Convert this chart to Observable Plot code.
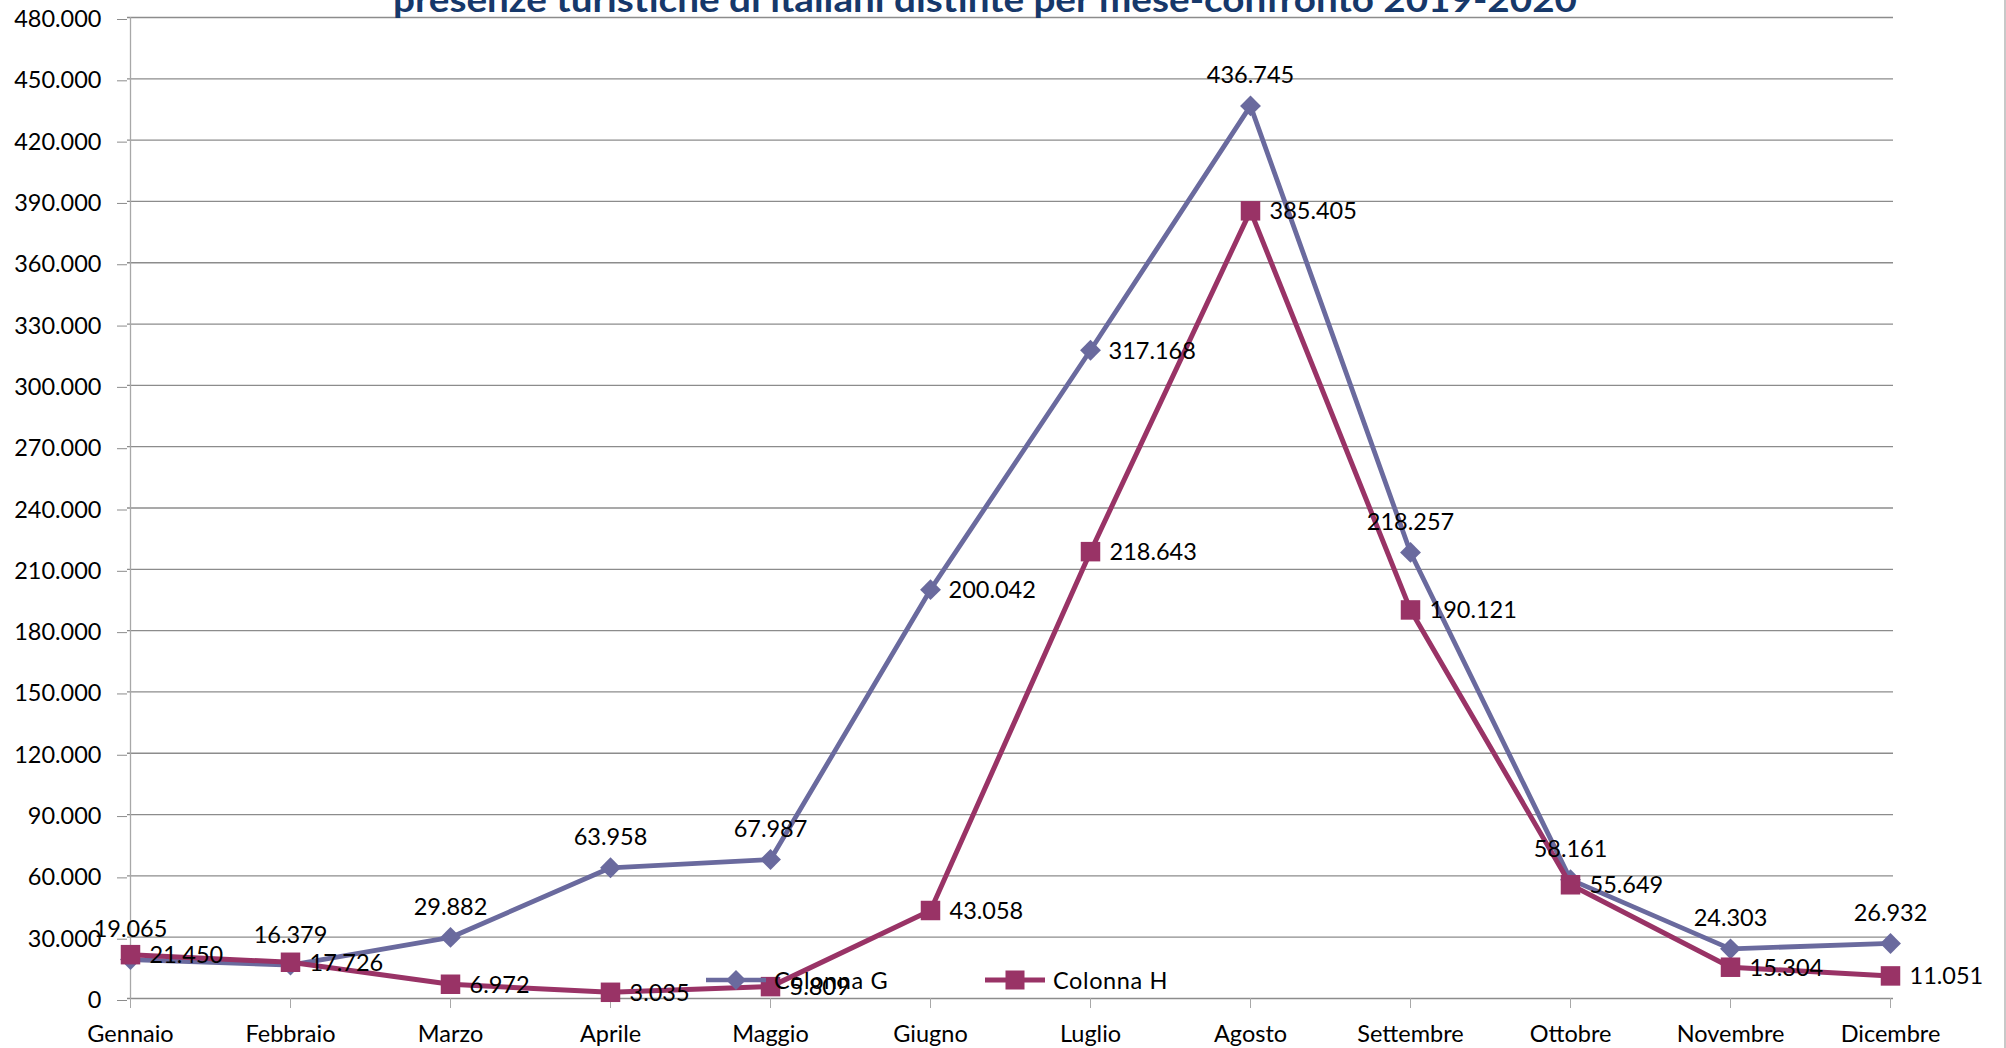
<!DOCTYPE html>
<html>
<head>
<meta charset="utf-8">
<script src="https://cdn.jsdelivr.net/npm/d3@7"></script>
<script src="https://cdn.jsdelivr.net/npm/@observablehq/plot@0.6"></script>
<style>
html,body{margin:0;padding:0;background:#fff;overflow:hidden;}
#wrap{position:relative;width:2006px;height:1048px;}
#edge{position:absolute;right:0;top:0;width:2px;height:1048px;background:#c8c8c8;}
.leg{position:absolute;top:966px;height:28px;display:flex;align-items:center;font-family:Lato,"Open Sans",sans-serif;font-size:23.5px;color:#000;white-space:nowrap;}
.leg span{margin-left:8px;letter-spacing:0.6px;}
</style>
</head>
<body>
<div id="wrap"><div id="edge"></div></div>
<script>
const title = "presenze turistiche di italiani distinte per mese-confronto 2019-2020";
const months = ["Gennaio","Febbraio","Marzo","Aprile","Maggio","Giugno","Luglio","Agosto","Settembre","Ottobre","Novembre","Dicembre"];
const colonnaG = [19065, 16379, 29882, 63958, 67987, 200042, 317168, 436745, 218257, 58161, 24303, 26932];
const colonnaH = [21450, 17726, 6972, 3035, 5809, 43058, 218643, 385405, 190121, 55649, 15304, 11051];
const seriesNames = ["Colonna G", "Colonna H"];
const yTicks = [0, 30000, 60000, 90000, 120000, 150000, 180000, 210000, 240000, 270000, 300000, 330000, 360000, 390000, 420000, 450000, 480000];

const colorG = "#6a6a9e";
const colorH = "#993366";
const FONT = "Lato, 'Open Sans', sans-serif";
const FS = 23.5;

const itLocale = d3.formatLocale({decimal: ",", thousands: ".", grouping: [3], currency: ["€", ""]});
const fmt = itLocale.format(",d");

const rowsG = months.map((m, i) => ({month: m, value: colonnaG[i], series: seriesNames[0]}));
const rowsH = months.map((m, i) => ({month: m, value: colonnaH[i], series: seriesNames[1]}));

// G labels placed to the right of the marker for these months, above otherwise
const gRight = new Set(["Giugno", "Luglio"]);

const chart = Plot.plot({
  width: 2006,
  height: 1048,
  marginLeft: 127,
  marginRight: 113,
  marginTop: 17,
  marginBottom: 50,
  style: {fontFamily: FONT, fontSize: FS + "px", color: "#000", background: "#fff", overflow: "visible"},
  x: {type: "point", domain: months, padding: 0, label: null},
  y: {domain: [0, 480000], label: null},
  marks: [
    Plot.ruleY(yTicks, {stroke: "#8c8c8c", strokeWidth: 1.3}),
    Plot.ruleX([months[0]], {stroke: "#a8a8a8", strokeWidth: 1.3}),
    Plot.axisY({ticks: yTicks, tickFormat: fmt, tickSize: 10, tickPadding: 16, stroke: "#8c8c8c", dy: 2, fontSize: FS, label: null}),
    Plot.axisX({tickSize: 10, tickPadding: 17, stroke: "#a8a8a8", fontSize: FS, label: null}),
    Plot.line(rowsG, {x: "month", y: "value", stroke: colorG, strokeWidth: 4.8, strokeLinejoin: "round"}),
    Plot.dot(rowsG, {x: "month", y: "value", symbol: "diamond2", r: 9.4, fill: colorG, stroke: null}),
    Plot.line(rowsH, {x: "month", y: "value", stroke: colorH, strokeWidth: 5, strokeLinejoin: "round"}),
    Plot.dot(rowsH, {x: "month", y: "value", symbol: "square", r: 11, fill: colorH, stroke: null}),
    Plot.text(rowsG.filter(d => !gRight.has(d.month)), {x: "month", y: "value", text: d => fmt(d.value), dy: -30, fill: "#000", fontSize: FS}),
    Plot.text(rowsG.filter(d => gRight.has(d.month)), {x: "month", y: "value", text: d => fmt(d.value), dx: 18, dy: 1, textAnchor: "start", fill: "#000", fontSize: FS}),
    Plot.text(rowsH, {x: "month", y: "value", text: d => fmt(d.value), dx: 19, dy: 1, textAnchor: "start", fill: "#000", fontSize: FS})
  ]
});

d3.select(chart).append("text")
  .attr("x", 985).attr("y", 12)
  .attr("text-anchor", "middle")
  .attr("font-family", FONT)
  .attr("font-weight", 700)
  .attr("font-size", 34)
  .attr("fill", "#16386a")
  .attr("textLength", 1184)
  .attr("lengthAdjust", "spacingAndGlyphs")
  .text(title);

const wrap = document.getElementById("wrap");
wrap.insertBefore(chart, wrap.firstChild);

// legend
function legendItem(name, color, kind, left) {
  const div = document.createElement("div");
  div.className = "leg";
  div.style.left = left + "px";
  const s = d3.create("svg").attr("width", 60).attr("height", 28);
  s.append("line").attr("x1", 0).attr("x2", 60).attr("y1", 14).attr("y2", 14).attr("stroke", color).attr("stroke-width", kind === "diamond" ? 4.5 : 5);
  if (kind === "diamond") {
    s.append("path").attr("d", "M30,4L40,14L30,24L20,14Z").attr("fill", color);
  } else {
    s.append("rect").attr("x", 20.5).attr("y", 4.5).attr("width", 19).attr("height", 19).attr("fill", color);
  }
  div.appendChild(s.node());
  const sp = document.createElement("span");
  sp.textContent = name;
  div.appendChild(sp);
  wrap.appendChild(div);
}
legendItem(seriesNames[0], colorG, "diamond", 706);
legendItem(seriesNames[1], colorH, "square", 985);
</script>
</body>
</html>
